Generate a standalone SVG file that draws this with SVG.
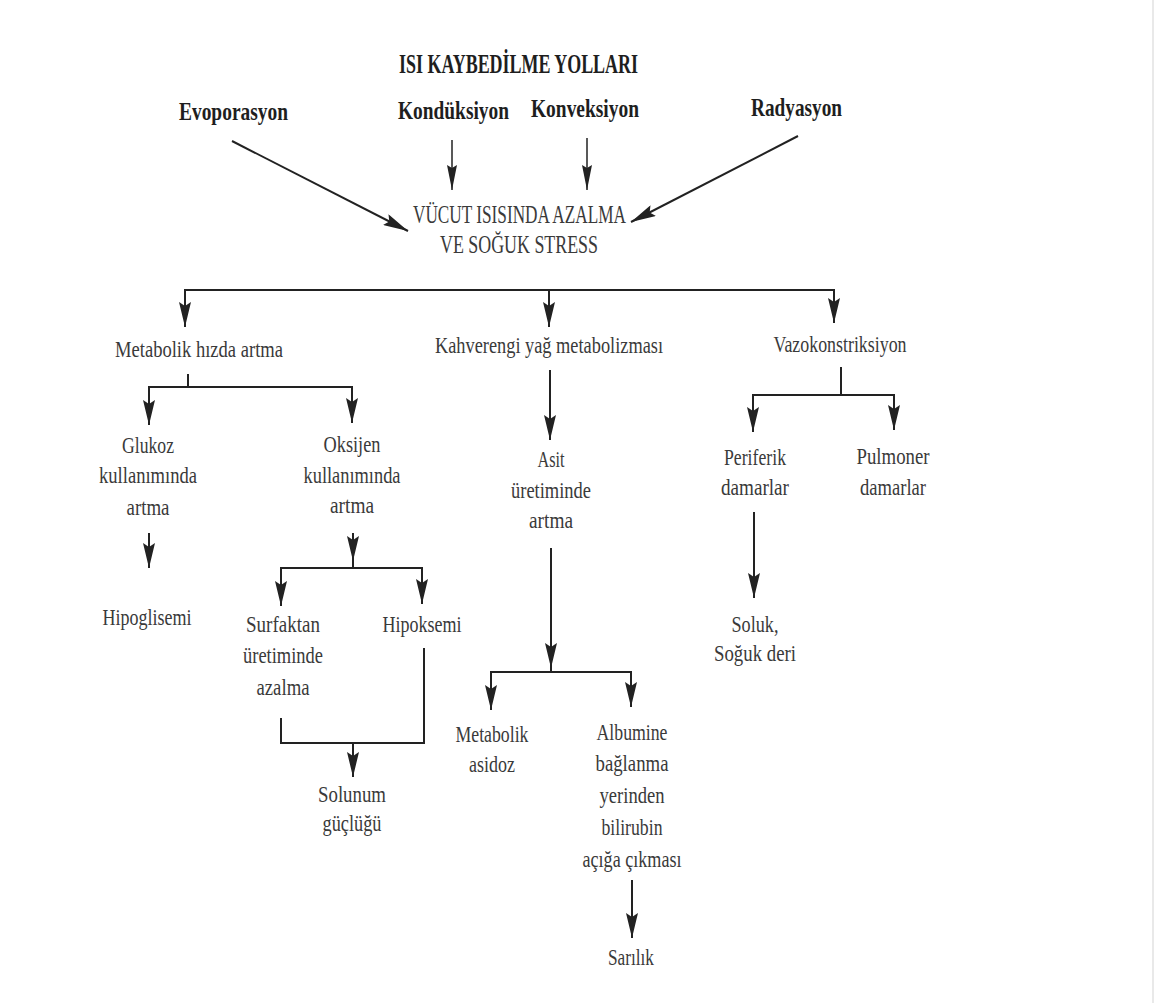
<svg xmlns="http://www.w3.org/2000/svg" width="1166" height="1003" viewBox="0 0 1166 1003">
<defs>
<style>
.hd{font-family:"Liberation Serif","Times New Roman",serif;font-weight:bold;fill:#1e1e1e}
.tx{font-family:"Liberation Serif","Times New Roman",serif;font-size:23.5px;fill:#3a3a3a;text-anchor:middle}
.up{font-family:"Liberation Serif","Times New Roman",serif;font-size:25px;fill:#3a3a3a}
.ln{fill:none;stroke:#222;stroke-width:2}
.th{fill:none;stroke:#222;stroke-width:1.5}
</style>
<marker id="ah" viewBox="0 0 26 12" refX="25" refY="6" markerWidth="26" markerHeight="12" markerUnits="userSpaceOnUse" orient="auto">
<path d="M0,0 L25,6 L0,12 L4,6 Z" fill="#222"/>
</marker>
<marker id="ahs" viewBox="0 0 26 10" refX="25" refY="5" markerWidth="26" markerHeight="10" markerUnits="userSpaceOnUse" orient="auto">
<path d="M0,0 L25,5 L0,10 L3,5 Z" fill="#222"/>
</marker>
</defs>
<rect width="1166" height="1003" fill="#fff"/>
<line x1="1153" y1="0" x2="1153" y2="1003" stroke="#e2e2e2" stroke-width="1.5"/>

<g id="title"><text class="hd" x="399" y="73" font-size="27" textLength="239" lengthAdjust="spacingAndGlyphs">ISI KAYBEDİLME YOLLARI</text></g>
<g id="evoporasyon"><text class="hd" x="179" y="120" font-size="25" textLength="109" lengthAdjust="spacingAndGlyphs">Evoporasyon</text></g>
<g id="konduksiyon"><text class="hd" x="398" y="119" font-size="25" textLength="111" lengthAdjust="spacingAndGlyphs">Kondüksiyon</text></g>
<g id="konveksiyon"><text class="hd" x="531" y="117" font-size="25" textLength="108" lengthAdjust="spacingAndGlyphs">Konveksiyon</text></g>
<g id="radyasyon"><text class="hd" x="751" y="116" font-size="25" textLength="91" lengthAdjust="spacingAndGlyphs">Radyasyon</text></g>

<g id="vucut">
<text class="up" x="413" y="223" textLength="213" lengthAdjust="spacingAndGlyphs">VÜCUT ISISINDA AZALMA</text>
<text class="up" x="440" y="253" textLength="158" lengthAdjust="spacingAndGlyphs">VE SOĞUK STRESS</text>
</g>

<g id="metabolik-hiz"><text class="tx" x="199" y="357" textLength="168" lengthAdjust="spacingAndGlyphs">Metabolik hızda artma</text></g>
<g id="kahverengi"><text class="tx" x="549" y="353" textLength="228" lengthAdjust="spacingAndGlyphs">Kahverengi yağ metabolizması</text></g>
<g id="vazokonstriksiyon"><text class="tx" x="840" y="352" textLength="133" lengthAdjust="spacingAndGlyphs">Vazokonstriksiyon</text></g>

<g id="glukoz">
<text class="tx" x="148" y="453" textLength="52" lengthAdjust="spacingAndGlyphs">Glukoz</text>
<text class="tx" x="148" y="483" textLength="98" lengthAdjust="spacingAndGlyphs">kullanımında</text>
<text class="tx" x="148" y="515" textLength="43" lengthAdjust="spacingAndGlyphs">artma</text>
</g>
<g id="oksijen">
<text class="tx" x="352" y="452" textLength="57" lengthAdjust="spacingAndGlyphs">Oksijen</text>
<text class="tx" x="352" y="483" textLength="97" lengthAdjust="spacingAndGlyphs">kullanımında</text>
<text class="tx" x="352" y="513" textLength="44" lengthAdjust="spacingAndGlyphs">artma</text>
</g>
<g id="hipoglisemi"><text class="tx" x="147" y="625" textLength="89" lengthAdjust="spacingAndGlyphs">Hipoglisemi</text></g>
<g id="surfaktan">
<text class="tx" x="283" y="632" textLength="74" lengthAdjust="spacingAndGlyphs">Surfaktan</text>
<text class="tx" x="283" y="663" textLength="80" lengthAdjust="spacingAndGlyphs">üretiminde</text>
<text class="tx" x="283" y="695" textLength="53" lengthAdjust="spacingAndGlyphs">azalma</text>
</g>
<g id="hipoksemi"><text class="tx" x="422" y="632" textLength="79" lengthAdjust="spacingAndGlyphs">Hipoksemi</text></g>
<g id="solunum">
<text class="tx" x="352" y="802" textLength="68" lengthAdjust="spacingAndGlyphs">Solunum</text>
<text class="tx" x="352" y="831" textLength="59" lengthAdjust="spacingAndGlyphs">güçlüğü</text>
</g>
<g id="asit">
<text class="tx" x="551" y="467" textLength="27" lengthAdjust="spacingAndGlyphs">Asit</text>
<text class="tx" x="551" y="498" textLength="80" lengthAdjust="spacingAndGlyphs">üretiminde</text>
<text class="tx" x="551" y="528" textLength="44" lengthAdjust="spacingAndGlyphs">artma</text>
</g>
<g id="metabolik-asidoz">
<text class="tx" x="492" y="742" textLength="73" lengthAdjust="spacingAndGlyphs">Metabolik</text>
<text class="tx" x="492" y="772" textLength="46" lengthAdjust="spacingAndGlyphs">asidoz</text>
</g>
<g id="albumine">
<text class="tx" x="632" y="740" textLength="71" lengthAdjust="spacingAndGlyphs">Albumine</text>
<text class="tx" x="632" y="771" textLength="73" lengthAdjust="spacingAndGlyphs">bağlanma</text>
<text class="tx" x="632" y="803" textLength="65" lengthAdjust="spacingAndGlyphs">yerinden</text>
<text class="tx" x="632" y="835" textLength="61" lengthAdjust="spacingAndGlyphs">bilirubin</text>
<text class="tx" x="632" y="867" textLength="99" lengthAdjust="spacingAndGlyphs">açığa çıkması</text>
</g>
<g id="sarilik"><text class="tx" x="631" y="965" textLength="46" lengthAdjust="spacingAndGlyphs">Sarılık</text></g>
<g id="periferik">
<text class="tx" x="755" y="465" textLength="62" lengthAdjust="spacingAndGlyphs">Periferik</text>
<text class="tx" x="755" y="495" textLength="68" lengthAdjust="spacingAndGlyphs">damarlar</text>
</g>
<g id="pulmoner">
<text class="tx" x="893" y="464" textLength="73" lengthAdjust="spacingAndGlyphs">Pulmoner</text>
<text class="tx" x="893" y="495" textLength="66" lengthAdjust="spacingAndGlyphs">damarlar</text>
</g>
<g id="soluk">
<text class="tx" x="755" y="632" textLength="47" lengthAdjust="spacingAndGlyphs">Soluk,</text>
<text class="tx" x="755" y="661" textLength="82" lengthAdjust="spacingAndGlyphs">Soğuk deri</text>
</g>

<g id="connectors">
<line class="ln" x1="232" y1="141" x2="408" y2="231" marker-end="url(#ah)"/>
<line class="th" x1="452" y1="140" x2="452" y2="190" marker-end="url(#ahs)"/>
<line class="th" x1="587" y1="138" x2="587" y2="190" marker-end="url(#ahs)"/>
<line class="ln" x1="798" y1="136" x2="631" y2="222" marker-end="url(#ah)"/>

<polyline class="ln" points="185,327 185,290 834,290 834,323"/>
<path class="ln" d="M185,295 V327" marker-end="url(#ah)"/>
<path class="ln" d="M549,290 V327" marker-end="url(#ah)"/>
<path class="ln" d="M834,295 V323" marker-end="url(#ah)"/>

<path class="ln" d="M188,374 V387"/>
<path class="ln" d="M149,425 V387 H352 V423"/>
<path class="ln" d="M149,395 V425" marker-end="url(#ah)"/>
<path class="ln" d="M352,395 V423" marker-end="url(#ah)"/>

<path class="ln" d="M149,533 V568" marker-end="url(#ah)"/>

<path class="ln" d="M353,533 V561" marker-end="url(#ah)"/>
<path class="ln" d="M353,558 V568"/>
<path class="ln" d="M281,606 V568 H422 V604"/>
<path class="ln" d="M281,575 V606" marker-end="url(#ah)"/>
<path class="ln" d="M422,575 V604" marker-end="url(#ah)"/>

<path class="ln" d="M281,718 V743 H424 V648"/>
<path class="ln" d="M353,743 V777" marker-end="url(#ah)"/>

<path class="ln" d="M550,370 V440" marker-end="url(#ah)"/>

<path class="ln" d="M551,548 V668" marker-end="url(#ah)"/>
<path class="ln" d="M551,664 V672"/>
<path class="ln" d="M491,710 V672 H631 V707"/>
<path class="ln" d="M491,680 V710" marker-end="url(#ah)"/>
<path class="ln" d="M631,680 V707" marker-end="url(#ah)"/>

<path class="ln" d="M632,880 V938" marker-end="url(#ah)"/>

<path class="ln" d="M841,367 V395"/>
<path class="ln" d="M753,432 V395 H894 V430"/>
<path class="ln" d="M753,402 V432" marker-end="url(#ah)"/>
<path class="ln" d="M894,402 V430" marker-end="url(#ah)"/>

<path class="ln" d="M754,512 V598" marker-end="url(#ah)"/>
</g>
</svg>
